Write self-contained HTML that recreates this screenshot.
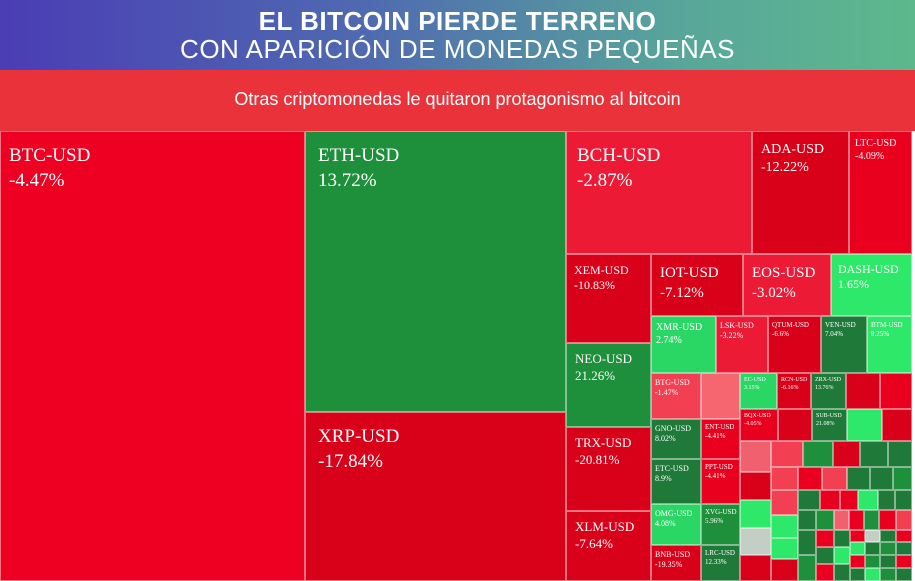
<!DOCTYPE html>
<html><head><meta charset="utf-8"><style>
*{margin:0;padding:0;box-sizing:border-box}
body{width:915px;height:581px;overflow:hidden;background:#fff;position:relative;font-family:"Liberation Serif",serif}
#hd{position:absolute;left:0;top:0;width:915px;height:70px;background:linear-gradient(90deg,#4a3db5 0%,#4f6ab0 40%,#58a79a 75%,#5db88c 100%);color:#fff;text-align:center;font-family:"Liberation Sans",sans-serif}
#hd .a{position:absolute;top:6px;width:100%;font-size:26px;font-weight:bold;letter-spacing:0.5px}
#hd .b{position:absolute;top:34px;width:100%;font-size:26px;letter-spacing:0.5px}
#sb{position:absolute;left:0;top:70px;width:915px;height:61px;background:#e9323a;color:#fff;text-align:center;font:18px "Liberation Sans",sans-serif;line-height:58px}
.t{position:absolute;border:1px solid rgba(255,255,255,0.45);color:#fff;overflow:hidden;line-height:1.25}
.t span{display:block}
</style></head><body>
<div id="hd"><div class="a">EL BITCOIN PIERDE TERRENO</div><div class="b">CON APARICIÓN DE MONEDAS PEQUEÑAS</div></div>
<div id="sb">Otras criptomonedas le quitaron protagonismo al bitcoin</div>
<div id="tm"></div>
<script>
const R='#e8001e',DR='#d9001a',MR='#ec1a35',G='#1e8f3a',DG='#1f7a3a',LG='#2ee86a',MG='#2ad765',P='#f0606e',PR='#f24052',GR='#c3cfc5';
const tiles=[
[0,131,305,450,'#ee0022','BTC-USD','-4.47%',19,12,8,1],
[305,131,261,281,G,'ETH-USD','13.72%',19,12,12,1],
[305,412,261,169,DR,'XRP-USD','-17.84%',19,12,12,1],
[566,131,186,123,MR,'BCH-USD','-2.87%',19,12,10,1],
[752,131,97,123,DR,'ADA-USD','-12.22%',14,9,8,0],
[849,131,63,123,R,'LTC-USD','-4.09%',10,6,5,0],
[566,254,85,89,DR,'XEM-USD','-10.83%',12,8,7,0],
[651,254,92,62,DR,'IOT-USD','-7.12%',15,9,8,1],
[743,254,88,62,MR,'EOS-USD','-3.02%',15,9,8,1],
[831,254,81,62,LG,'DASH-USD','1.65%',12,7,6,0],
[651,316,65,57,MG,'XMR-USD','2.74%',10,5,4,0],
[716,316,52,57,MR,'LSK-USD','-3.22%',8,4,3,0],
[768,316,53,57,DR,'QTUM-USD','-6.6%',7,4,3,0],
[821,316,46,57,DG,'VEN-USD','7.04%',7,4,3,0],
[867,316,45,57,LG,'BTM-USD','8.25%',7,4,3,0],
[566,343,85,84,G,'NEO-USD','21.26%',13,7,8,1],
[566,427,85,84,DR,'TRX-USD','-20.81%',13,7,8,1],
[566,511,85,70,DR,'XLM-USD','-7.64%',13,7,8,1],
[651,373,50,46,PR,'BTG-USD','-1.47%',8,4,3,0],
[701,373,39,46,'#f56670','','',8],
[740,373,37,36,MG,'EC-USD','3.15%',6,3,3,0],
[777,373,34,36,DR,'RCN-USD','-6.16%',6,3,3,0],
[811,373,35,36,DG,'ZRX-USD','13.76%',6,3,3,0],
[846,373,34,36,DR,'','',8],[880,373,32,36,R,'','',8],
[651,419,50,40,DG,'GNO-USD','8.02%',8,4,3,0],
[701,419,39,40,R,'ENT-USD','-4.41%',7,3,3,0],
[651,459,50,45,DG,'ETC-USD','8.9%',8,4,3,0],
[701,459,39,45,R,'PPT-USD','-4.41%',7,3,3,0],
[651,504,50,41,MG,'OMG-USD','4.08%',8,4,3,0],
[701,504,39,41,G,'XVG-USD','5.96%',7,3,3,0],
[651,545,50,36,DR,'BNB-USD','-19.35%',8,4,3,0],
[701,545,39,36,DG,'LRC-USD','12.33%',7,3,3,0],
[740,409,38,32,R,'BQX-USD','-4.05%',6,3,3,0],
[778,409,34,32,DR],[812,409,35,32,DG,'SUB-USD','21.08%',6,3,3,0],[847,409,35,32,LG],[882,409,30,32,DR],
[740,441,31,31,P],[771,441,32,26,PR],[803,441,30,26,G],[833,441,27,26,DR],[860,441,28,26,DG],[888,441,24,26,DG],
[740,472,31,28,DR],[771,467,27,23,PR],[798,467,24,23,R],[822,467,25,23,PR],[847,467,23,23,DG],[870,467,23,23,DG],[893,467,19,23,G],
[740,500,31,28,LG],[771,490,27,25,PR],[798,490,22,20,DG],[820,490,20,20,R],[840,490,18,20,R],[858,490,20,20,LG],[878,490,17,20,DG],[895,490,17,20,DG],
[740,528,31,27,GR],[771,515,27,23,LG],[798,510,18,20,DG],[816,510,18,20,G],[834,510,15,20,P],[849,510,15,20,R],[864,510,15,20,G],[879,510,17,20,R],[896,510,16,20,PR],
[740,555,31,26,DR],[771,538,27,21,LG],[798,530,18,25,DG],[816,530,18,17,R],[834,530,16,17,DG],[850,530,15,12,R],[865,530,15,12,GR],[880,530,16,12,DG],[896,530,16,12,R],
[771,559,27,22,DR],[798,555,18,26,G],[816,547,18,17,DG],[834,547,16,17,LG],[850,542,15,13,LG],[865,542,15,13,DG],[880,542,16,13,G],[896,542,16,13,DG],
[816,564,18,17,R],[834,564,16,17,DG],[850,555,15,13,R],[865,555,15,13,G],[880,555,16,13,DG],[896,555,16,13,R],
[850,568,15,13,DG],[865,568,15,13,LG],[880,568,16,13,G],[896,568,16,13,DG]
];
let h='';
for(const t of tiles){const[x,y,w,hh,c,n,v,fs,pt,pl,g]=t;
h+=`<div class="t" style="left:${x}px;top:${y}px;width:${w}px;height:${hh}px;background:${c};font-size:${fs||8}px;padding:${pt||0}px 0 0 ${pl||0}px">`+(n?`<span>${n}</span><span style="margin-top:${g||0}px">${v}</span>`:'')+`</div>`;}
document.getElementById('tm').innerHTML=h;
</script>
</body></html>
